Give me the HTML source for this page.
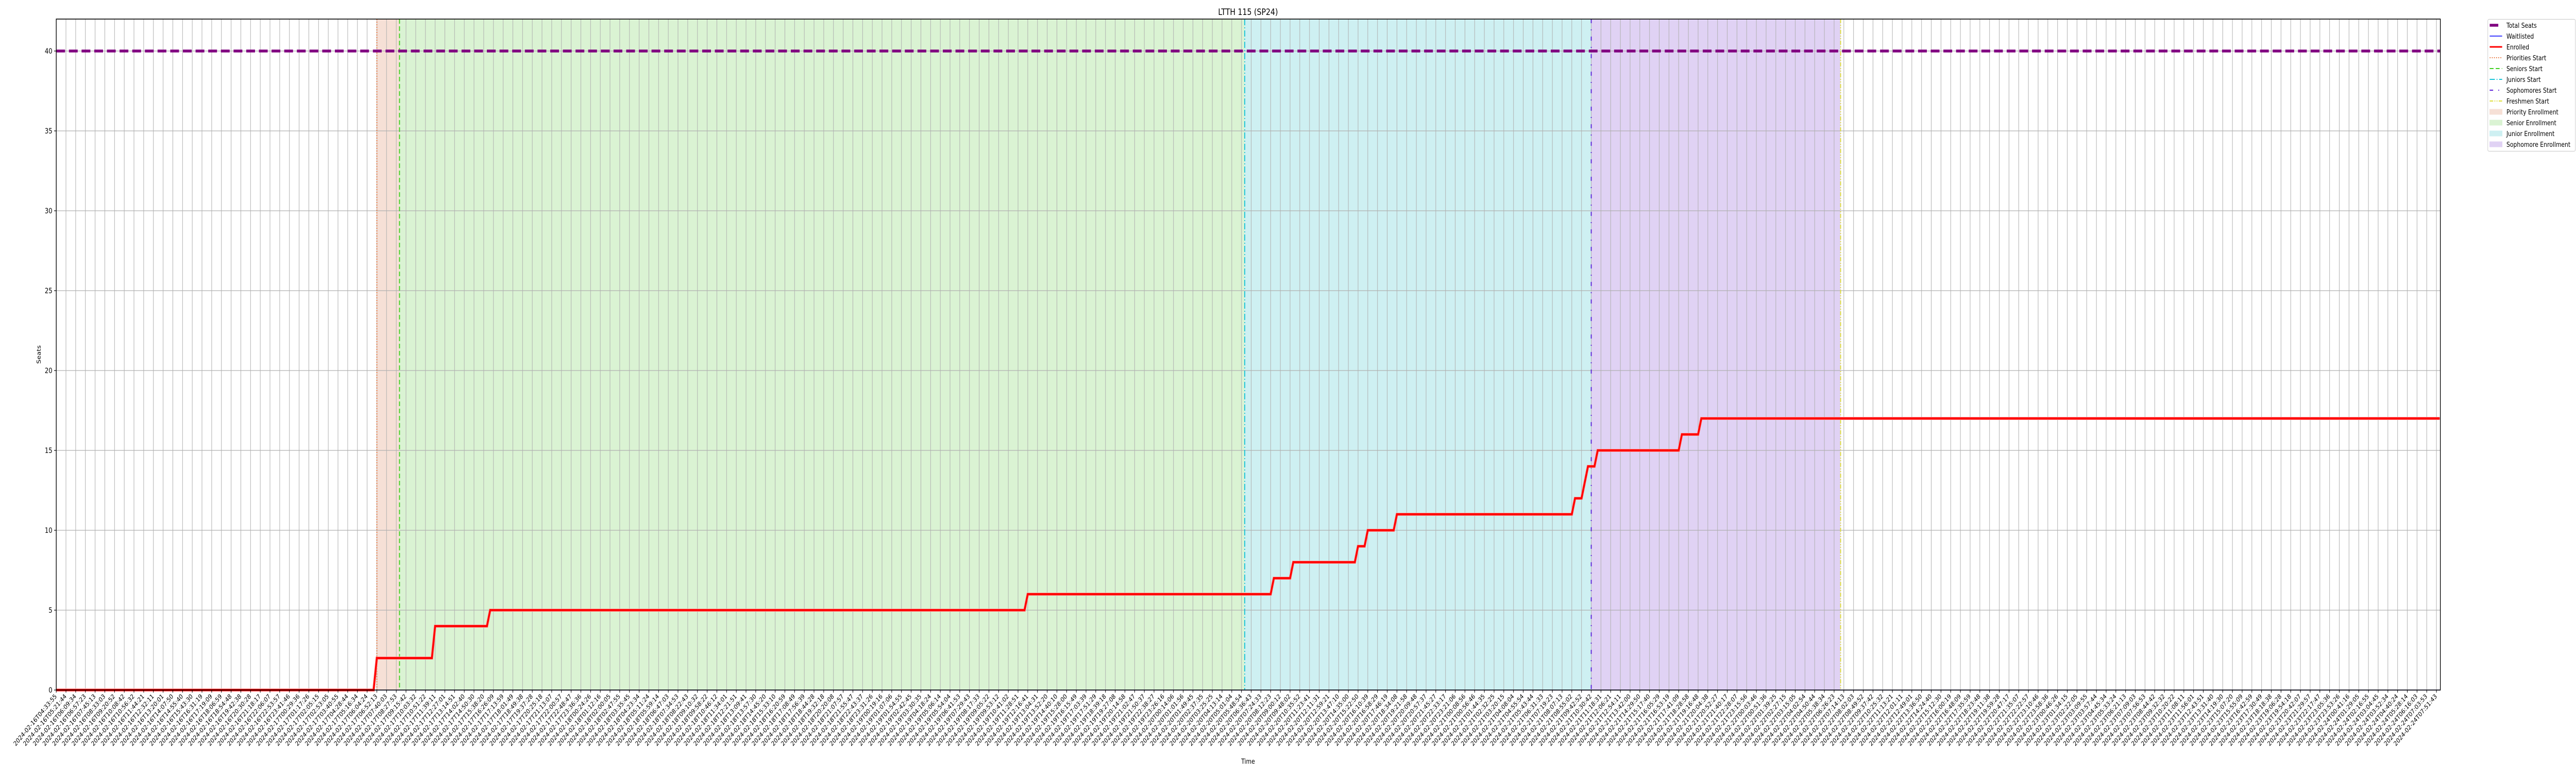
<!DOCTYPE html>
<html><head><meta charset="utf-8">
<style>
html,body{margin:0;padding:0;background:#fff;width:100vw;height:100vh;overflow:hidden;}
svg{display:block;position:absolute;left:0;top:0;width:100vw;height:100vh;overflow:hidden;font-family:"DejaVu Sans","Liberation Sans",sans-serif;}
</style></head>
<body>
<svg id="chart" xmlns="http://www.w3.org/2000/svg" viewBox="0 0 6000 1500" preserveAspectRatio="none">
<rect width="6000" height="1500" fill="#fff"/>
<text x="2907" y="29" font-size="17" text-anchor="middle">LTTH 115 (SP24)</text>
<g id="bands"></g>
<g id="grid"></g>
<g id="vlines"></g>
<g id="series"></g>
<rect x="131" y="37" width="5553" height="1302" fill="none" stroke="#000" stroke-width="1.6"/>
<g id="yaxis"></g>
<g id="xaxis"></g>
<text transform="translate(95,688) rotate(-90)" font-size="13" text-anchor="middle">Seats</text>
<text x="2907" y="1482" font-size="13" text-anchor="middle">Time</text>
<g id="legend"></g>
</svg>
<script>
// ---- data ----
const enrollIdx = [0, 99, 117, 134, 300, 376, 382, 402, 405, 414, 469, 472, 473, 476, 502, 508];
const enrollVal = [0, 2, 4, 5, 6, 7, 8, 9, 10, 11, 12, 13, 14, 15, 16, 17];
const totalSeats = 40;
const waitlisted = 0;
const phaseNames = ["Priority", "Senior", "Junior", "Sophomore"];
const phaseStart = [99, 106, 367, 474];
const phaseEnd = [106, 367, 474, 551];
const startLineNames = ["Priorities Start", "Seniors Start", "Juniors Start", "Sophomores Start", "Freshmen Start"];
const startLineIdx = [99, 106, 367, 474, 551];
const yTicks = [0, 5, 10, 15, 20, 25, 30, 35, 40];
const nPoints = 737;
const tickEvery = 3;
const tickCount = 246;
const labelStart = "2024-02-16T04:33:55";
const labelEnd = "2024-02-24T07:51:43";

// ---- scales ----
const X0 = 131, X1 = 5684, Y0 = 1339, Y1 = 37, XMAX = 736.2, YMAX = 42;
const sx = i => X0 + i * (X1 - X0) / XMAX;
const sy = v => Y0 - v * (Y0 - Y1) / YMAX;
const NS = "http://www.w3.org/2000/svg";
function mk(tag, attrs, parent) {
  const e = document.createElementNS(NS, tag);
  for (const k in attrs) e.setAttribute(k, attrs[k]);
  parent.appendChild(e);
  return e;
}
const bands = document.getElementById('bands');
const grid = document.getElementById('grid');
const vlines = document.getElementById('vlines');
const series = document.getElementById('series');
const yaxis = document.getElementById('yaxis');
const xaxis = document.getElementById('xaxis');
const legend = document.getElementById('legend');

const bandColors = ["#f6e0d6", "#daf3d3", "#cef0f2", "#e0d2f4"];
phaseNames.forEach((n, k) => {
  const r = mk('rect', {x: sx(phaseStart[k]), y: Y1, width: sx(phaseEnd[k]) - sx(phaseStart[k]), height: Y0 - Y1, fill: bandColors[k]}, bands);
  
  
});

function pad(n){return String(n).padStart(2,'0');}
const tStart = Date.parse(labelStart + "Z"), tEnd = Date.parse(labelEnd + "Z");
const tickLabels = [];
for (let k = 0; k < tickCount; k++) {
  const d = new Date(tStart + (tEnd - tStart) * k / (tickCount - 1));
  tickLabels.push(d.getUTCFullYear() + "-" + pad(d.getUTCMonth()+1) + "-" + pad(d.getUTCDate()) + "T" + pad(d.getUTCHours()) + ":" + pad(d.getUTCMinutes()) + ":" + pad(d.getUTCSeconds()));
}

tickLabels.forEach((lab, k) => {
  const x = sx(k * tickEvery);
  const g = mk('line', {x1: x, x2: x, y1: Y1, y2: Y0, stroke: "#b0b0b0", "stroke-width": 1.2}, grid);
  
  
  const t = mk('line', {x1: x, x2: x, y1: Y0, y2: Y0 + 5, stroke: "#000", "stroke-width": 1.2}, xaxis);
  
  
  const tx = mk('text', {transform: `translate(${x + 2},${Y0 + 13}) rotate(-45)`, "text-anchor": "end", "font-size": 12.5}, xaxis);
  tx.textContent = lab;
  
  
});
yTicks.forEach(v => {
  const y = sy(v);
  const g = mk('line', {x1: X0, x2: X1, y1: y, y2: y, stroke: "#b0b0b0", "stroke-width": 1.2}, grid);
  
  
  const t = mk('line', {x1: X0 - 5, x2: X0, y1: y, y2: y, stroke: "#000", "stroke-width": 1.2}, yaxis);
  
  
  const tx = mk('text', {x: X0 - 9, y: y + 5, "text-anchor": "end", "font-size": 14}, yaxis);
  tx.textContent = v;
  
  
});

const lineStyles = [
  {stroke: "#e8743b", dash: "2 3"},
  {stroke: "#3fcf1f", dash: "9 5"},
  {stroke: "#17c4d8", dash: "12 4 2 4"},
  {stroke: "#5a1fd8", dash: "8 12 2 12"},
  {stroke: "#dede3a", dash: "8 3 2 3 2 3"}
];
startLineIdx.forEach((i, k) => {
  const x = sx(i);
  const l = mk('line', {x1: x, x2: x, y1: Y1, y2: Y0, stroke: lineStyles[k].stroke, "stroke-width": 2.2, "stroke-dasharray": lineStyles[k].dash}, vlines);
  
  
});

const w = mk('line', {x1: X0, x2: X1, y1: sy(waitlisted), y2: sy(waitlisted), stroke: "#0000ff", "stroke-width": 1.5, opacity: 0.5}, series);



const pts = [];
for (let i = 0; i < nPoints; i++) {
  let v = enrollVal[0];
  for (let k = 0; k < enrollIdx.length; k++) if (enrollIdx[k] <= i) v = enrollVal[k];
  pts.push(sx(i).toFixed(2) + "," + sy(v).toFixed(2));
}
const halo = mk('polyline', {points: pts.join(" "), fill: "none", stroke: "#ff9090", "stroke-width": 6}, series);


const en = mk('polyline', {points: pts.join(" "), fill: "none", stroke: "#ff0000", "stroke-width": 4}, series);



const ts = mk('line', {x1: X0, x2: X1, y1: sy(totalSeats), y2: sy(totalSeats), stroke: "#800080", "stroke-width": 5.5, "stroke-dasharray": "20.5 9"}, series);



mk('rect', {x: 5794.5, y: 37.5, width: 204, height: 256, rx: 3, fill: "#fff", stroke: "#d0d0d0", "stroke-width": 1.2}, legend);
const legNames = ["Total Seats", "Waitlisted", "Enrolled"].concat(startLineNames).concat(phaseNames.map(n => n + " Enrollment"));
legNames.forEach((n, k) => {
  const y = 49 + k * 21;
  const g = mk('g', {}, legend);
  
  
  if (k === 0) mk('line', {x1: 5799, x2: 5819, y1: y, y2: y, stroke: "#800080", "stroke-width": 5.5}, g);
  else if (k === 1) mk('line', {x1: 5799, x2: 5828, y1: y, y2: y, stroke: "#0000ff", "stroke-width": 1.5}, g);
  else if (k === 2) mk('line', {x1: 5799, x2: 5828, y1: y, y2: y, stroke: "#ff0000", "stroke-width": 3}, g);
  else if (k < 8) { const s = lineStyles[k - 3]; mk('line', {x1: 5799, x2: 5828, y1: y, y2: y, stroke: s.stroke, "stroke-width": 2, "stroke-dasharray": s.dash}, g); }
  else mk('rect', {x: 5799, y: y - 5, width: 29, height: 10, fill: bandColors[k - 8], stroke: bandColors[k - 8]}, g);
  const t = mk('text', {x: 5838, y: y + 5, "font-size": 13}, g);
  t.textContent = n;
});
</script>
</body></html>
